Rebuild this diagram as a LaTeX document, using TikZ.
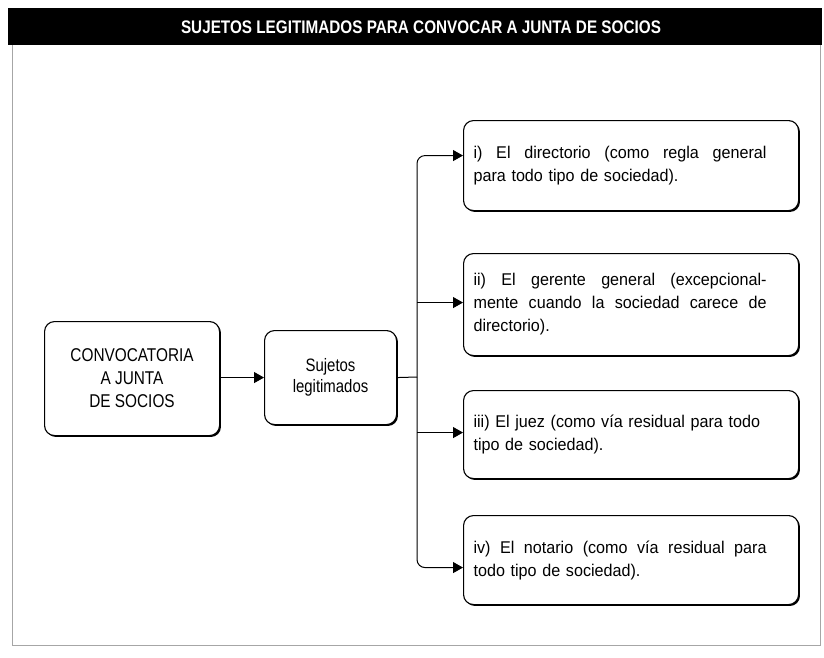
\documentclass[tikz,border=0pt]{standalone}
\usepackage{fontspec}
\setmainfont{Liberation Sans}[FakeStretch=0.95]
\newfontfamily\titlefont{Liberation Sans}[FakeStretch=0.84]
\newfontfamily\condfont{Liberation Sans}[FakeStretch=0.83]
\usetikzlibrary{arrows.meta,shadows,calc}
\newcommand\jline[1]{\leavevmode\hbox to 293pt{\spaceskip=0.28em plus 1fil\relax #1}}
\begin{document}
\begin{tikzpicture}[x=1pt,y=-1pt,
  box/.style={draw, fill=white, rounded corners=10pt, line width=1.1pt,
    drop shadow={fill=black, opacity=1, shadow xshift=1.4pt, shadow yshift=-1.4pt},
    font=\condfont\fontsize{18.5}{23}\selectfont},
  itembox/.style={box, anchor=north west, minimum width=335pt, text width=315pt,
    inner xsep=10pt, align=left, font=\normalfont\fontsize{17}{23}\selectfont},
  conn/.style={line width=1pt},
  arr/.style={conn, -{Triangle[length=10pt,width=11pt]}}]
\useasboundingbox (0,0) rectangle (824,657);
% frame and title
\draw[gray!70, line width=0.8pt] (12,45) -- (12,645) -- (820,645) -- (820,45);
\fill[black] (8,8) rectangle (822,45);
\node[text=white, font=\titlefont\fontsize{18.2}{20}\selectfont\bfseries] (title) at (421,27)
  {SUJETOS LEGITIMADOS PARA CONVOCAR A JUNTA DE SOCIOS};
% left boxes
\node[box, anchor=north west, minimum width=175pt, minimum height=114pt, align=center]
  (conv) at (44,321) {CONVOCATORIA\\A JUNTA\\DE SOCIOS};
\node[box, anchor=north west, minimum width=132pt, minimum height=94pt, align=center,
  font=\condfont\fontsize{18}{21.5}\selectfont]
  (suj) at (264,330) {Sujetos\\legitimados};
% right boxes
\node[itembox, minimum height=90pt] (b1) at (463,120)
  {\jline{i) El directorio (como regla general}\\para todo tipo de sociedad).};
\node[itembox, minimum height=102pt] (b2) at (463,253)
  {\jline{ii) El gerente general (excepcional-}\\\jline{mente cuando la sociedad carece de}\\directorio).};
\node[itembox, minimum height=88pt] (b3) at (463,390)
  {iii) El juez (como vía residual para todo\\tipo de sociedad).};
\node[itembox, minimum height=89pt] (b4) at (463,515)
  {\jline{iv) El notario (como vía residual para}\\todo tipo de sociedad).};
% connectors
\draw[arr] (conv.east |- suj.west) -- (suj.west);
\coordinate (t) at (417,377);
\coordinate (p1) at ($(b1.west)+(0,-10)$);
\coordinate (p2) at ($(b2.west)+(0,-2)$);
\coordinate (p3) at ($(b3.west)+(0,-2)$);
\coordinate (p4) at ($(b4.west)+(0,7.5)$);
\draw[conn] (suj.east) -- (t);
\draw[arr, rounded corners=8pt] (t) |- (p1);
\draw[arr, rounded corners=8pt] (t) |- (p4);
\draw[arr] (t |- p2) -- (p2);
\draw[arr] (t |- p3) -- (p3);
\end{tikzpicture}
\end{document}
